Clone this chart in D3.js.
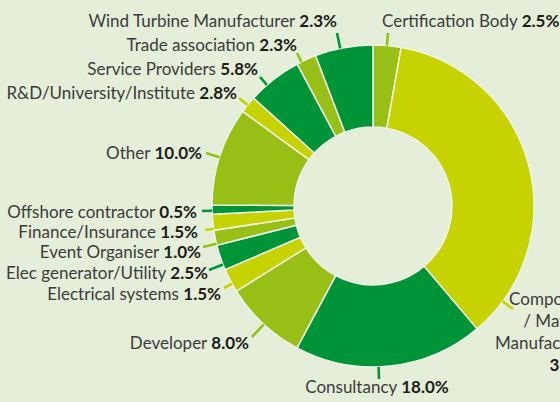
<!DOCTYPE html>
<html lang="en">
<head>
<meta charset="UTF-8" />
<title>Respondents by sector</title>
<script src="https://d3js.org/d3.v7.min.js"></script>
<style>
  body { margin: 0; background: #e4eed9; }
  svg { display: block; }
  text { font-family: Lato, "Open Sans", sans-serif; font-size: 17px; fill: #3c3c3b; }
  .val { font-weight: bold; fill: #1d1d1b; }
</style>
</head>
<body>
<script>
    // slices clockwise from 12 o'clock
    var categories = ["Certification Body", "Component / Material Manufacturer", "Consultancy", "Developer",
        "Electrical systems", "Elec generator/Utility", "Event Organiser", "Finance/Insurance",
        "Offshore contractor", "Other", "R&D/University/Institute", "Service Providers",
        "Trade association", "Wind Turbine Manufacturer"];
    // percentages as printed next to each slice
    var printed = ["2.5%", "36.0%", "18.0%", "8.0%", "1.5%", "2.5%", "1.0%", "1.5%", "0.5%", "10.0%", "2.8%", "5.8%", "2.3%", "2.3%"];
    // slice sizes as drawn in the picture
    var shares = [2.8, 36.0, 19.0, 8.3, 2.4, 2.55, 1.5, 1.6, 0.9, 9.9, 1.7, 5.5, 2.0, 5.8];

    var w = 560;
    var h = 402;
    var cx = 373, cy = 206;
    var outerR = 161, innerR = 79;

    var palette = { mid: "#97bf16", yellow: "#c7d300", dark: "#009439" };
    var tones = ["mid", "yellow", "dark", "mid", "yellow", "dark", "mid", "yellow", "dark", "mid", "yellow", "dark", "mid", "dark"];

    // where each leader line ends and where its label sits
    var layout = [
        { tick: [388, 33], x: 382, y: 27, anchor: "start" },
        { tick: [513, 309], x: 597, y: 305, anchor: "end", lines: ["Component", "/ Material", "Manufacturer"] },
        { tick: [379, 379], x: 377, y: 393, anchor: "middle" },
        { tick: [252, 337], x: 249, y: 349, anchor: "end" },
        { tick: [224, 288], x: 221, y: 300, anchor: "end" },
        { tick: [209, 270], x: 208, y: 279, anchor: "end" },
        { tick: [203, 247], x: 201, y: 258, anchor: "end" },
        { tick: [205, 230], x: 198, y: 238, anchor: "end" },
        { tick: [202, 211], x: 197, y: 218, anchor: "end" },
        { tick: [206, 153], x: 202, y: 159, anchor: "end" },
        { tick: [239, 98], x: 237, y: 99, anchor: "end" },
        { tick: [260, 77], x: 258, y: 75, anchor: "end" },
        { tick: [297, 53], x: 297, y: 51, anchor: "end" },
        { tick: [337, 33], x: 337, y: 27, anchor: "end" }
    ];

    var svg = d3.select("body")
        .append("svg")
        .attr("width", w)
        .attr("height", h);

    svg.append("rect")
        .attr("width", w)
        .attr("height", h)
        .attr("fill", "#e4eed9");

    var pie = d3.pie()
        .sort(null)
        .value(function (d) { return d; });

    var arc = d3.arc()
        .innerRadius(innerR)
        .outerRadius(outerR);

    var slices = pie(shares);

    var g = svg.append("g")
        .attr("transform", "translate(" + cx + "," + cy + ")");

    g.selectAll("path")
        .data(slices)
        .enter()
        .append("path")
        .attr("d", arc)
        .attr("fill", function (d, i) { return palette[tones[i]]; })
        .attr("stroke", "#eef4e6")
        .attr("stroke-width", 1.5);

    // leader ticks: start on the rim, pointing to the label
    svg.selectAll("line.tick")
        .data(slices)
        .enter()
        .append("line")
        .attr("class", "tick")
        .each(function (d, i) {
            var end = layout[i].tick;
            var a = Math.atan2(end[0] - cx, -(end[1] - cy));
            if (a < 0) a += 2 * Math.PI;
            a = Math.max(d.startAngle + 0.01, Math.min(d.endAngle - 0.01, a));
            d3.select(this)
                .attr("x1", cx + outerR * Math.sin(a))
                .attr("y1", cy - outerR * Math.cos(a))
                .attr("x2", end[0])
                .attr("y2", end[1]);
        })
        .attr("stroke", function (d, i) { return palette[tones[i]]; })
        .attr("stroke-width", 2.6);

    var labels = svg.selectAll("text.lab")
        .data(categories)
        .enter()
        .append("text")
        .attr("class", "lab")
        .attr("text-anchor", function (d, i) { return layout[i].anchor; });

    labels.each(function (d, i) {
        var t = d3.select(this);
        var L = layout[i];
        if (L.lines) {
            L.lines.forEach(function (line, k) {
                t.append("tspan").attr("x", L.x).attr("y", L.y + k * 22).text(line);
            });
            t.append("tspan").attr("class", "val").attr("x", L.x).attr("y", L.y + L.lines.length * 22).text(printed[i]);
        } else {
            t.attr("x", L.x).attr("y", L.y);
            t.append("tspan").text(d + " ");
            t.append("tspan").attr("class", "val").text(printed[i]);
        }
    });
</script>
</body>
</html>
